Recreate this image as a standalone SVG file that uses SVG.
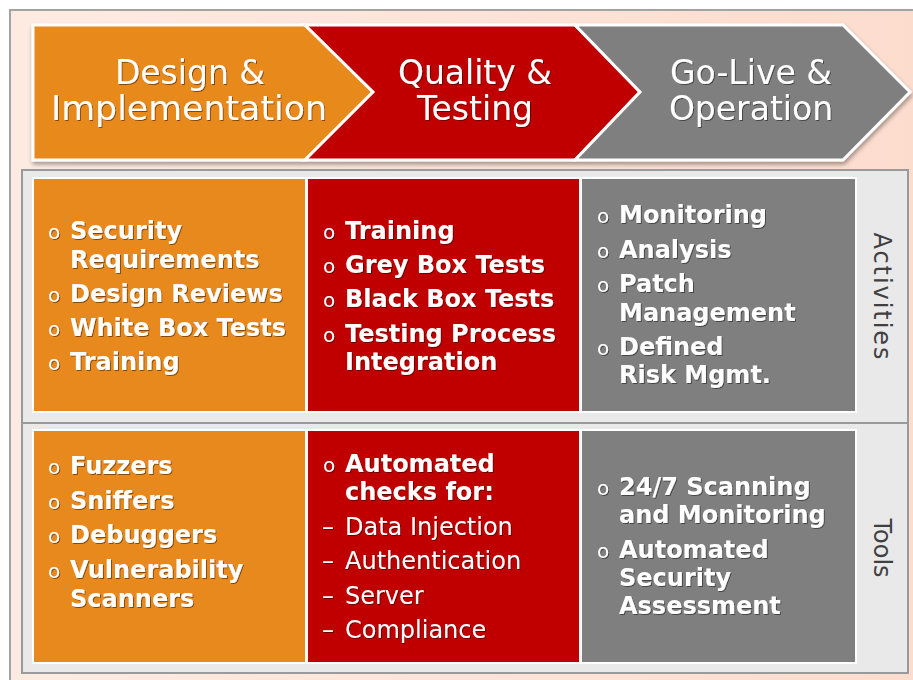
<svg xmlns="http://www.w3.org/2000/svg" width="913" height="680" viewBox="0 0 913 680">
<defs>
<linearGradient id="bg" x1="0" y1="0" x2="1" y2="0">
<stop offset="0" stop-color="#fdebe2"/>
<stop offset="1" stop-color="#fcdccd"/>
</linearGradient>
<filter id="sh" x="-5%" y="-5%" width="110%" height="120%">
<feDropShadow dx="1" dy="3" stdDeviation="2" flood-color="#000" flood-opacity="0.35"/>
</filter>
<filter id="ts" x="-5%" y="-20%" width="110%" height="140%">
<feDropShadow dx="1" dy="1" stdDeviation="0.4" flood-color="#000" flood-opacity="0.45"/>
</filter>
</defs>
<style>
.chev{stroke:#fff;stroke-width:3;stroke-linejoin:miter}
.ht{font-family:"DejaVu Sans",Verdana,sans-serif;font-size:33px;fill:#fff;text-anchor:middle}
.cell{stroke:#fff;stroke-width:2}
.b{font-family:"DejaVu Sans",Verdana,sans-serif;font-size:24px;font-weight:bold;fill:#fff}
.r{font-family:"DejaVu Sans",Verdana,sans-serif;font-size:24px;fill:#fff}
.bul{font-family:"DejaVu Sans",Verdana,sans-serif;font-size:20px;fill:#fff}
.lab{font-family:"DejaVu Sans",Verdana,sans-serif;font-size:24px;fill:#404040;text-anchor:middle}
.box{fill:#e9e9e9;stroke:#9a9a9a;stroke-width:2}
</style>
<rect x="10" y="10" width="912" height="680" fill="url(#bg)" stroke="#a3a3a3" stroke-width="2"/>

<g id="banner" filter="url(#sh)">
<g id="phase-design">
<polygon class="chev" fill="#e8891e" points="33,25 305,25 373,92 305,160 33,160"/>
<text class="ht" filter="url(#ts)"><tspan x="190" y="84">Design &amp;</tspan><tspan x="189" y="120" textLength="276" lengthAdjust="spacingAndGlyphs">Implementation</tspan></text>
</g>
<g id="phase-quality">
<polygon class="chev" fill="#c00000" points="305,25 575,25 640,92 575,160 305,160 373,92"/>
<text class="ht" filter="url(#ts)"><tspan x="475" y="84">Quality &amp;</tspan><tspan x="475" y="120">Testing</tspan></text>
</g>
<g id="phase-golive">
<polygon class="chev" fill="#7f7f7f" points="575,25 843,25 910,92 843,160 575,160 640,92"/>
<text class="ht" filter="url(#ts)"><tspan x="751" y="84">Go-Live &amp;</tspan><tspan x="751" y="120">Operation</tspan></text>
</g>
</g>

<rect class="box" x="22" y="170" width="886" height="253"/>
<rect class="box" x="22" y="423" width="886" height="250"/>

<g id="act-design">
<rect class="cell" fill="#e8891e" x="33" y="178" width="273" height="234"/>
<g filter="url(#ts)">
<text class="bul" x="48" y="239">o</text>
<text class="b" x="70" y="239">Security</text>
<text class="b" x="70" y="268">Requirements</text>
<text class="bul" x="48" y="302">o</text>
<text class="b" x="70" y="302">Design Reviews</text>
<text class="bul" x="48" y="336">o</text>
<text class="b" x="70" y="336">White Box Tests</text>
<text class="bul" x="48" y="370">o</text>
<text class="b" x="70" y="370">Training</text>
</g>
</g>
<g id="act-quality">
<rect class="cell" fill="#c00000" x="307" y="178" width="273" height="234"/>
<g filter="url(#ts)">
<text class="bul" x="323" y="239">o</text>
<text class="b" x="345" y="239">Training</text>
<text class="bul" x="323" y="273">o</text>
<text class="b" x="345" y="273">Grey Box Tests</text>
<text class="bul" x="323" y="307">o</text>
<text class="b" x="345" y="307">Black Box Tests</text>
<text class="bul" x="323" y="342">o</text>
<text class="b" x="345" y="342">Testing Process</text>
<text class="b" x="345" y="370">Integration</text>
</g>
</g>
<g id="act-golive">
<rect class="cell" fill="#7f7f7f" x="581" y="178" width="275" height="234"/>
<g filter="url(#ts)">
<text class="bul" x="597" y="223">o</text>
<text class="b" x="619" y="223">Monitoring</text>
<text class="bul" x="597" y="258">o</text>
<text class="b" x="619" y="258">Analysis</text>
<text class="bul" x="597" y="292">o</text>
<text class="b" x="619" y="292">Patch</text>
<text class="b" x="619" y="321">Management</text>
<text class="bul" x="597" y="355">o</text>
<text class="b" x="619" y="355">Defined</text>
<text class="b" x="619" y="383">Risk Mgmt.</text>
</g>
</g>
<g id="label-activities">
<text class="lab" transform="translate(874,296) rotate(90)" textLength="127" lengthAdjust="spacing">Activities</text>
</g>

<g id="tools-design">
<rect class="cell" fill="#e8891e" x="33" y="430" width="273" height="233"/>
<g filter="url(#ts)">
<text class="bul" x="48" y="474">o</text>
<text class="b" x="70" y="474">Fuzzers</text>
<text class="bul" x="48" y="509">o</text>
<text class="b" x="70" y="509">Sniffers</text>
<text class="bul" x="48" y="543">o</text>
<text class="b" x="70" y="543">Debuggers</text>
<text class="bul" x="48" y="578">o</text>
<text class="b" x="70" y="578">Vulnerability</text>
<text class="b" x="70" y="607">Scanners</text>
</g>
</g>
<g id="tools-quality">
<rect class="cell" fill="#c00000" x="307" y="430" width="273" height="233"/>
<g filter="url(#ts)">
<text class="bul" x="323" y="472">o</text>
<text class="b" x="345" y="472">Automated</text>
<text class="b" x="345" y="500">checks for:</text>
<text class="r" x="322" y="535">–</text>
<text class="r" x="345" y="535">Data Injection</text>
<text class="r" x="322" y="569">–</text>
<text class="r" x="345" y="569">Authentication</text>
<text class="r" x="322" y="604">–</text>
<text class="r" x="345" y="604">Server</text>
<text class="r" x="322" y="638">–</text>
<text class="r" x="345" y="638">Compliance</text>
</g>
</g>
<g id="tools-golive">
<rect class="cell" fill="#7f7f7f" x="581" y="430" width="275" height="233"/>
<g filter="url(#ts)">
<text class="bul" x="597" y="495">o</text>
<text class="b" x="619" y="495">24/7 Scanning</text>
<text class="b" x="619" y="523">and Monitoring</text>
<text class="bul" x="597" y="558">o</text>
<text class="b" x="619" y="558">Automated</text>
<text class="b" x="619" y="586">Security</text>
<text class="b" x="619" y="614">Assessment</text>
</g>
</g>
<g id="label-tools">
<text class="lab" transform="translate(874,548) rotate(90)">Tools</text>
</g>
<g id="connectors"/>
</svg>
